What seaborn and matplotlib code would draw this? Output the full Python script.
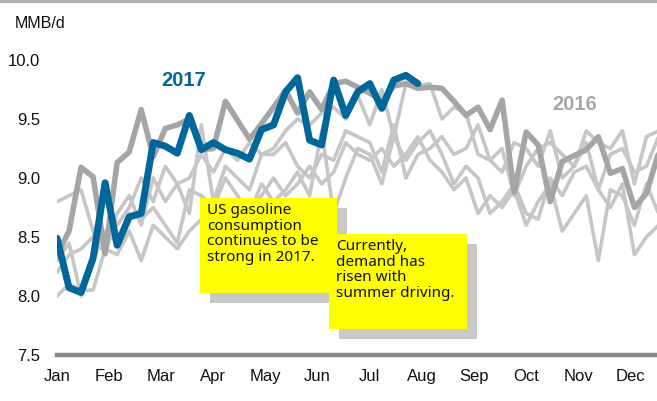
import matplotlib
matplotlib.use("Agg")
import matplotlib.pyplot as plt
from matplotlib.patches import Rectangle
from matplotlib.lines import Line2D
import seaborn as sns
import pandas as pd
import numpy as np

months = ["Jan", "Feb", "Mar", "Apr", "May", "Jun", "Jul", "Aug", "Sep", "Oct", "Nov", "Dec"]
yticks = [7.5, 8.0, 8.5, 9.0, 9.5, 10.0]

y2012 = [8.00, 8.10, 8.05, 8.05, 8.40, 8.35, 8.55, 8.30, 8.60, 8.50, 8.40, 8.55, 8.65, 8.70, 8.60, 8.80, 8.75, 8.85, 9.00, 8.85, 8.95, 9.10, 8.95, 9.05, 9.30, 9.20, 9.15, 9.25, 9.10, 9.20, 9.35, 9.15, 9.05, 8.90, 9.00, 8.70, 8.85, 8.75, 8.90, 8.60, 8.80, 8.95, 8.55, 8.70, 8.85, 8.30, 8.90, 8.85, 8.60, 8.95, 8.70, 8.65]
y2013 = [8.30, 8.45, 8.00, 8.30, 8.55, 8.45, 8.70, 8.65, 8.75, 8.60, 8.45, 8.90, 8.85, 8.75, 9.00, 8.85, 8.70, 8.95, 8.80, 8.90, 9.05, 8.85, 9.40, 8.70, 9.00, 9.25, 9.20, 8.95, 9.35, 9.15, 9.30, 9.40, 9.20, 8.95, 9.10, 9.00, 8.70, 8.80, 8.95, 8.70, 8.65, 9.00, 8.85, 9.05, 9.10, 8.90, 8.75, 8.95, 8.35, 8.50, 8.60, 8.65]
y2014 = [8.80, 8.85, 8.90, 8.55, 8.35, 8.70, 8.85, 8.60, 9.00, 8.80, 8.95, 8.70, 9.45, 8.80, 9.10, 9.00, 8.90, 9.20, 9.20, 9.30, 9.10, 9.00, 9.20, 9.15, 9.40, 9.35, 9.30, 9.05, 9.45, 9.00, 9.20, 9.25, 9.35, 9.20, 9.25, 9.45, 9.15, 9.25, 8.85, 9.10, 9.25, 9.30, 9.20, 9.10, 9.40, 9.30, 9.25, 9.40, 8.95, 9.35, 9.40, 9.55]
y2015 = [8.20, 8.35, 8.40, 8.50, 8.85, 8.60, 8.75, 9.00, 8.80, 9.10, 8.95, 9.00, 9.20, 9.05, 9.25, 9.15, 9.30, 9.20, 9.25, 9.40, 9.50, 9.45, 9.55, 9.60, 9.50, 9.70, 9.45, 9.75, 9.35, 9.80, 9.78, 9.80, 9.50, 9.60, 9.55, 9.20, 9.15, 9.05, 9.30, 9.25, 9.10, 9.40, 9.00, 9.10, 9.30, 8.90, 9.20, 9.25, 9.05, 9.10, 9.35, 9.25]
y2016 = [8.35, 8.55, 9.09, 9.01, 8.36, 9.13, 9.22, 9.58, 9.18, 9.42, 9.45, 9.50, 9.24, 9.25, 9.65, 9.49, 9.33, 9.46, 9.60, 9.74, 9.55, 9.73, 9.58, 9.80, 9.82, 9.77, 9.72, 9.65, 9.78, 9.80, 9.76, 9.77, 9.76, 9.65, 9.53, 9.60, 9.41, 9.66, 8.88, 9.39, 9.28, 8.80, 9.14, 9.19, 9.24, 9.35, 9.04, 9.08, 8.75, 8.87, 9.21, 9.30]
y2017 = [8.49, 8.07, 8.03, 8.32, 8.96, 8.43, 8.67, 8.70, 9.30, 9.27, 9.21, 9.53, 9.24, 9.30, 9.24, 9.21, 9.16, 9.41, 9.45, 9.73, 9.85, 9.32, 9.28, 9.83, 9.53, 9.73, 9.80, 9.59, 9.83, 9.87, 9.80]

W, H = 657, 401
fig = plt.figure(figsize=(W / 100, H / 100), dpi=100)
sns.set_style("white")
plt.rcParams["font.family"] = ["Liberation Sans", "DejaVu Sans"]

ax = fig.add_axes([57 / W, 1 - 355 / H, 613.5 / W, 295 / H])

light = "#c6c6c6"
for ys in [y2012, y2013, y2014, y2015]:
    d = pd.DataFrame({"week": np.arange(len(ys)), "val": ys})
    sns.lineplot(data=d, x="week", y="val", ax=ax, color=light, linewidth=2.6, zorder=2)
d16 = pd.DataFrame({"week": np.arange(len(y2016)), "val": y2016})
sns.lineplot(data=d16, x="week", y="val", ax=ax, color="#a5a5a5", linewidth=4.0, zorder=3)
d17 = pd.DataFrame({"week": np.arange(len(y2017)), "val": y2017})
sns.lineplot(data=d17, x="week", y="val", ax=ax, color="#00679b", linewidth=5.0, zorder=4)

ax.set_xlim(0, 51)
ax.set_ylim(7.5, 10.0)
ax.set_xticks([i * 52 / 12 for i in range(12)])
ax.set_xticklabels(months)
ax.set_yticks(yticks)
ax.set_yticklabels([f"{v:.1f}" for v in yticks])
ax.set_xlabel("")
ax.set_ylabel("")
for s in ["top", "right", "left"]:
    ax.spines[s].set_visible(False)
ax.spines["bottom"].set_color("#8a8a8a")
ax.spines["bottom"].set_linewidth(3.2)
ax.tick_params(axis="y", length=0, pad=12, labelsize=12, labelcolor="#111111")
ax.tick_params(axis="x", length=3, width=1.5, color="#8a8a8a", direction="out", pad=7, labelsize=12, labelcolor="#111111")
ax.grid(False)

ax.text(184 / 1.0, 0, "")
fig.text(184 / W, 1 - 81 / H, "2017", color="#00679b", fontsize=14.5, fontweight="bold", ha="center", va="center")
fig.text(575 / W, 1 - 105 / H, "2016", color="#a6a6a6", fontsize=14.5, fontweight="bold", ha="center", va="center")
fig.text(15 / W, 1 - 23 / H, "MMB/d", color="#111111", fontsize=11.5, ha="left", va="center")

# top border
fig.add_artist(Line2D([0, 1], [1 - 1 / H, 1 - 1 / H], color="#b3b3b3", linewidth=3, transform=fig.transFigure))

def box(x0, y0, x1, y1, color, z):
    fig.add_artist(Rectangle((x0 / W, 1 - y1 / H), (x1 - x0) / W, (y1 - y0) / H,
                             transform=fig.transFigure, facecolor=color, edgecolor="none", zorder=z))

box(210, 208, 347, 303, "#c8c8c8", 10)
box(200, 198, 337, 293, "#ffff00", 11)
box(339, 244, 477, 339, "#c8c8c8", 12)
box(329, 234, 467, 329, "#ffff00", 13)

annot_font = ["Noto Sans", "DejaVu Sans"]
fig.text(207 / W, 1 - 203 / H, "US gasoline\nconsumption\ncontinues to be\nstrong in 2017.",
         family=annot_font, fontsize=11, color="#111111", ha="left", va="top", linespacing=1.05, zorder=14)
fig.text(336 / W, 1 - 239 / H, "Currently,\ndemand has\nrisen with\nsummer driving.",
         family=annot_font, fontsize=11, color="#111111", ha="left", va="top", linespacing=1.05, zorder=14)

fig.savefig("out.png", dpi=100)
